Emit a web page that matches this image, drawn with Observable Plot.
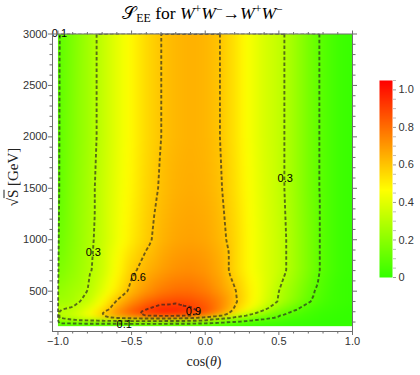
<!DOCTYPE html>
<html><head><meta charset="utf-8">
<script src="https://cdn.jsdelivr.net/npm/d3@7"></script>
<script src="https://cdn.jsdelivr.net/npm/@observablehq/plot@0.6"></script>
<style>
body{margin:0;background:#fff;}
#wrap{position:relative;width:420px;height:375px;overflow:hidden;font-family:"Liberation Sans",Arial,sans-serif;}
#main{position:absolute;left:0;top:0;}
#bar{position:absolute;left:370px;top:70px;}
#title{position:absolute;left:0;width:405px;top:1px;height:24px;text-align:center;font-family:"Liberation Serif","DejaVu Serif",serif;font-size:17.5px;color:#000;white-space:nowrap;line-height:24px;}
#title sub,#title sup{font-size:68%;line-height:1;}
#title sub{vertical-align:-0.25em;font-family:"Liberation Serif",serif;}
#title sup{vertical-align:0.5em;}
#xlabel{position:absolute;left:0;width:408px;top:354px;text-align:center;font-family:"Liberation Serif",serif;font-size:14px;color:#222;}
#ylabel{position:absolute;left:13px;top:177px;transform:translate(-50%,-50%) rotate(-90deg);font-family:"Liberation Serif",serif;font-size:15px;white-space:nowrap;color:#222;}
.ov{text-decoration:overline;}
</style></head>
<body><div id="wrap">
<div id="main"></div>
<div id="bar"></div>
<div id="title"><span>𝒮</span><sub>EE</sub> for <i>W</i><sup>+</sup><i>W</i><sup>−</sup>→<i>W</i><sup>+</sup><i>W</i><sup>−</sup></div>
<div id="xlabel">cos(<i>θ</i>)</div>
<div id="ylabel">√<span class="ov">S</span> [GeV]</div>
</div>
<script>
// grid of cos(theta) columns
const cosTheta = [-1.0,-0.9,-0.8,-0.7,-0.6,-0.5,-0.4,-0.3,-0.2,-0.1,0.0,0.1,0.2,0.3,0.4,0.5,0.6,0.7,0.8,0.9,1.0];
// sqrt(s) rows in GeV
const sqrtS = [160,175,195,215,240,260,290,330,400,500,700,1000,1500,2000,3000];
// S_EE values, one row per sqrt(s)
const see160  = [0,0,0,0,0,0,0,0,0,0,0,0,0,0,0,0,0,0,0,0,0];
const see175  = [0.05,0.05,0.06,0.06,0.06,0.06,0.06,0.06,0.06,0.06,0.05,0.04,0.03,0.03,0.02,0.02,0.01,0.01,0.00,0.00,0.00];
const see195  = [0.13,0.14,0.15,0.16,0.16,0.17,0.17,0.17,0.16,0.15,0.13,0.10,0.08,0.06,0.04,0.03,0.02,0.01,0.00,0.00,0.00];
const see215  = [0.22,0.27,0.30,0.32,0.33,0.34,0.34,0.34,0.33,0.32,0.28,0.20,0.14,0.10,0.07,0.05,0.03,0.02,0.01,0.00,0.00];
const see240  = [0.30,0.36,0.45,0.55,0.62,0.66,0.68,0.68,0.66,0.62,0.52,0.34,0.25,0.18,0.13,0.09,0.05,0.03,0.01,0.00,0.00];
const see260  = [0.33,0.36,0.45,0.58,0.72,0.83,0.90,0.94,0.93,0.89,0.81,0.62,0.40,0.26,0.16,0.10,0.06,0.03,0.01,0.00,0.00];
const see290  = [0.30,0.33,0.42,0.60,0.74,0.86,0.94,1.00,1.00,0.95,0.89,0.74,0.55,0.37,0.24,0.15,0.08,0.04,0.02,0.01,0.00];
const see330  = [0.29,0.31,0.40,0.52,0.67,0.80,0.89,0.95,0.95,0.91,0.85,0.74,0.59,0.46,0.33,0.21,0.12,0.06,0.03,0.01,0.00];
const see400  = [0.25,0.27,0.33,0.47,0.61,0.72,0.81,0.86,0.88,0.87,0.83,0.75,0.62,0.50,0.39,0.29,0.20,0.11,0.05,0.02,0.01];
const see500  = [0.22,0.26,0.30,0.40,0.52,0.63,0.71,0.77,0.80,0.80,0.77,0.70,0.61,0.50,0.40,0.30,0.22,0.13,0.06,0.02,0.01];
const see700  = [0.17,0.22,0.28,0.35,0.47,0.58,0.64,0.685,0.72,0.73,0.71,0.66,0.56,0.47,0.40,0.34,0.26,0.17,0.08,0.03,0.01];
const see1000 = [0.13,0.20,0.27,0.34,0.43,0.51,0.58,0.635,0.67,0.68,0.67,0.63,0.56,0.47,0.40,0.34,0.26,0.17,0.08,0.03,0.01];
const see1500 = [0.10,0.19,0.26,0.34,0.42,0.49,0.56,0.61,0.645,0.655,0.645,0.61,0.54,0.46,0.39,0.33,0.25,0.16,0.08,0.03,0.01];
const see2000 = [0.095,0.18,0.25,0.33,0.41,0.48,0.55,0.60,0.63,0.645,0.635,0.60,0.53,0.45,0.38,0.33,0.25,0.16,0.08,0.03,0.01];
const see3000 = [0.09,0.17,0.25,0.33,0.41,0.48,0.55,0.60,0.63,0.645,0.635,0.60,0.53,0.45,0.38,0.33,0.25,0.16,0.08,0.03,0.01];
const seeRows = [see160,see175,see195,see215,see240,see260,see290,see330,see400,see500,see700,see1000,see1500,see2000,see3000];

// contour levels and their labels
const contourLevels = [0.1,0.3,0.6,0.9];
const labelText = ["0.1","0.3","0.6","0.9","0.1","0.3"];
const labelCos  = [-0.99,-0.76,-0.455,-0.08,-0.55,0.543];
const labelRts  = [3010,876,633,303,176,1595];

// ticks
const xMajor = [-1,-0.5,0,0.5,1];
const xMinor = [-0.9,-0.8,-0.7,-0.6,-0.4,-0.3,-0.2,-0.1,0.1,0.2,0.3,0.4,0.6,0.7,0.8,0.9];
const yMajor = [500,1000,1500,2000,2500,3000];
const yMinor = [200,300,400,600,700,800,900,1100,1200,1300,1400,1600,1700,1800,1900,2100,2200,2300,2400,2600,2700,2800,2900];
const barMajor = [0,0.2,0.4,0.6,0.8,1.0];
const barMinor = [0.05,0.1,0.15,0.25,0.3,0.35,0.45,0.5,0.55,0.65,0.7,0.75,0.85,0.9,0.95,1.05];

const data = [];
sqrtS.forEach((s, j) => seeRows[j].forEach((v, i) => data.push({c: cosTheta[i], s, v})));

const colorScale = {type: "linear", domain: [0, 1.05], interpolate: t => d3.hsl(108 * (1 - Math.max(0, Math.min(1, t))), 1, 0.5).formatRgb()};
const gray = "#6e6e6e";
const tickStyle = {fontFamily: "Liberation Sans, Arial, sans-serif", fontSize: "11px", color: "#333", background: "transparent", overflow: "visible"};

const main = Plot.plot({
  width: 360, height: 375,
  marginTop: 33.5, marginBottom: 44, marginLeft: 52, marginRight: 8,
  x: {domain: [-1.037, 1]},
  y: {domain: [108, 3000]},
  color: colorScale,
  style: tickStyle,
  marks: [
    Plot.raster(data, {x: "c", y: "s", fill: "v", interpolate: "barycentric", blur: 3, x1: -1, x2: 1, y1: 160, y2: 3000}),
    Plot.contour(data, {x: "c", y: "s", value: "v", thresholds: contourLevels, interpolate: "barycentric",
      x1: -1.05, x2: 1.1, y1: 60, y2: 3300, fill: "none", stroke: "#222", strokeOpacity: 0.65,
      strokeWidth: 1.9, strokeDasharray: "3.5,2.2", clip: true}),
    Plot.text(labelText, {x: (d, i) => labelCos[i], y: (d, i) => labelRts[i], text: d => d, fill: "#000", fontSize: 11}),
    Plot.frame({stroke: gray}),
    Plot.axisX(xMajor, {anchor: "bottom", tickSize: 4, tickPadding: 2, tickFormat: d3.format(".1f"), label: null, stroke: gray}),
    Plot.axisX(xMinor, {anchor: "bottom", tickSize: 2.5, text: null, label: null, stroke: gray}),
    Plot.axisX(xMajor, {anchor: "top", tickSize: 4, text: null, label: null, stroke: gray}),
    Plot.axisX(xMinor, {anchor: "top", tickSize: 2.5, text: null, label: null, stroke: gray}),
    Plot.axisY(yMajor, {anchor: "left", tickSize: 4, tickPadding: 1, tickFormat: d => String(d), label: null, stroke: gray}),
    Plot.axisY(yMinor, {anchor: "left", tickSize: 2.5, text: null, label: null, stroke: gray}),
    Plot.axisY(yMajor, {anchor: "right", tickSize: 4, text: null, label: null, stroke: gray}),
    Plot.axisY(yMinor, {anchor: "right", tickSize: 2.5, text: null, label: null, stroke: gray})
  ]
});
document.getElementById("main").append(main);

const bar = Plot.plot({
  width: 50, height: 220,
  marginTop: 10, marginBottom: 13, marginLeft: 9, marginRight: 28,
  x: {domain: [0, 1], axis: null},
  y: {domain: [0, 1.05]},
  color: colorScale,
  style: tickStyle,
  marks: [
    Plot.raster({x1: 0, x2: 1, y1: 0, y2: 1.05, fill: (x, y) => y}),
    Plot.axisY(barMajor, {anchor: "right", tickSize: 3, tickPadding: 3, tickFormat: d => d === 0 ? "0" : d.toFixed(1), label: null, stroke: "#999"}),
    Plot.axisY(barMinor, {anchor: "right", tickSize: 3, text: null, label: null, stroke: "#bbb"})
  ]
});
document.getElementById("bar").append(bar);
</script>
</body></html>
